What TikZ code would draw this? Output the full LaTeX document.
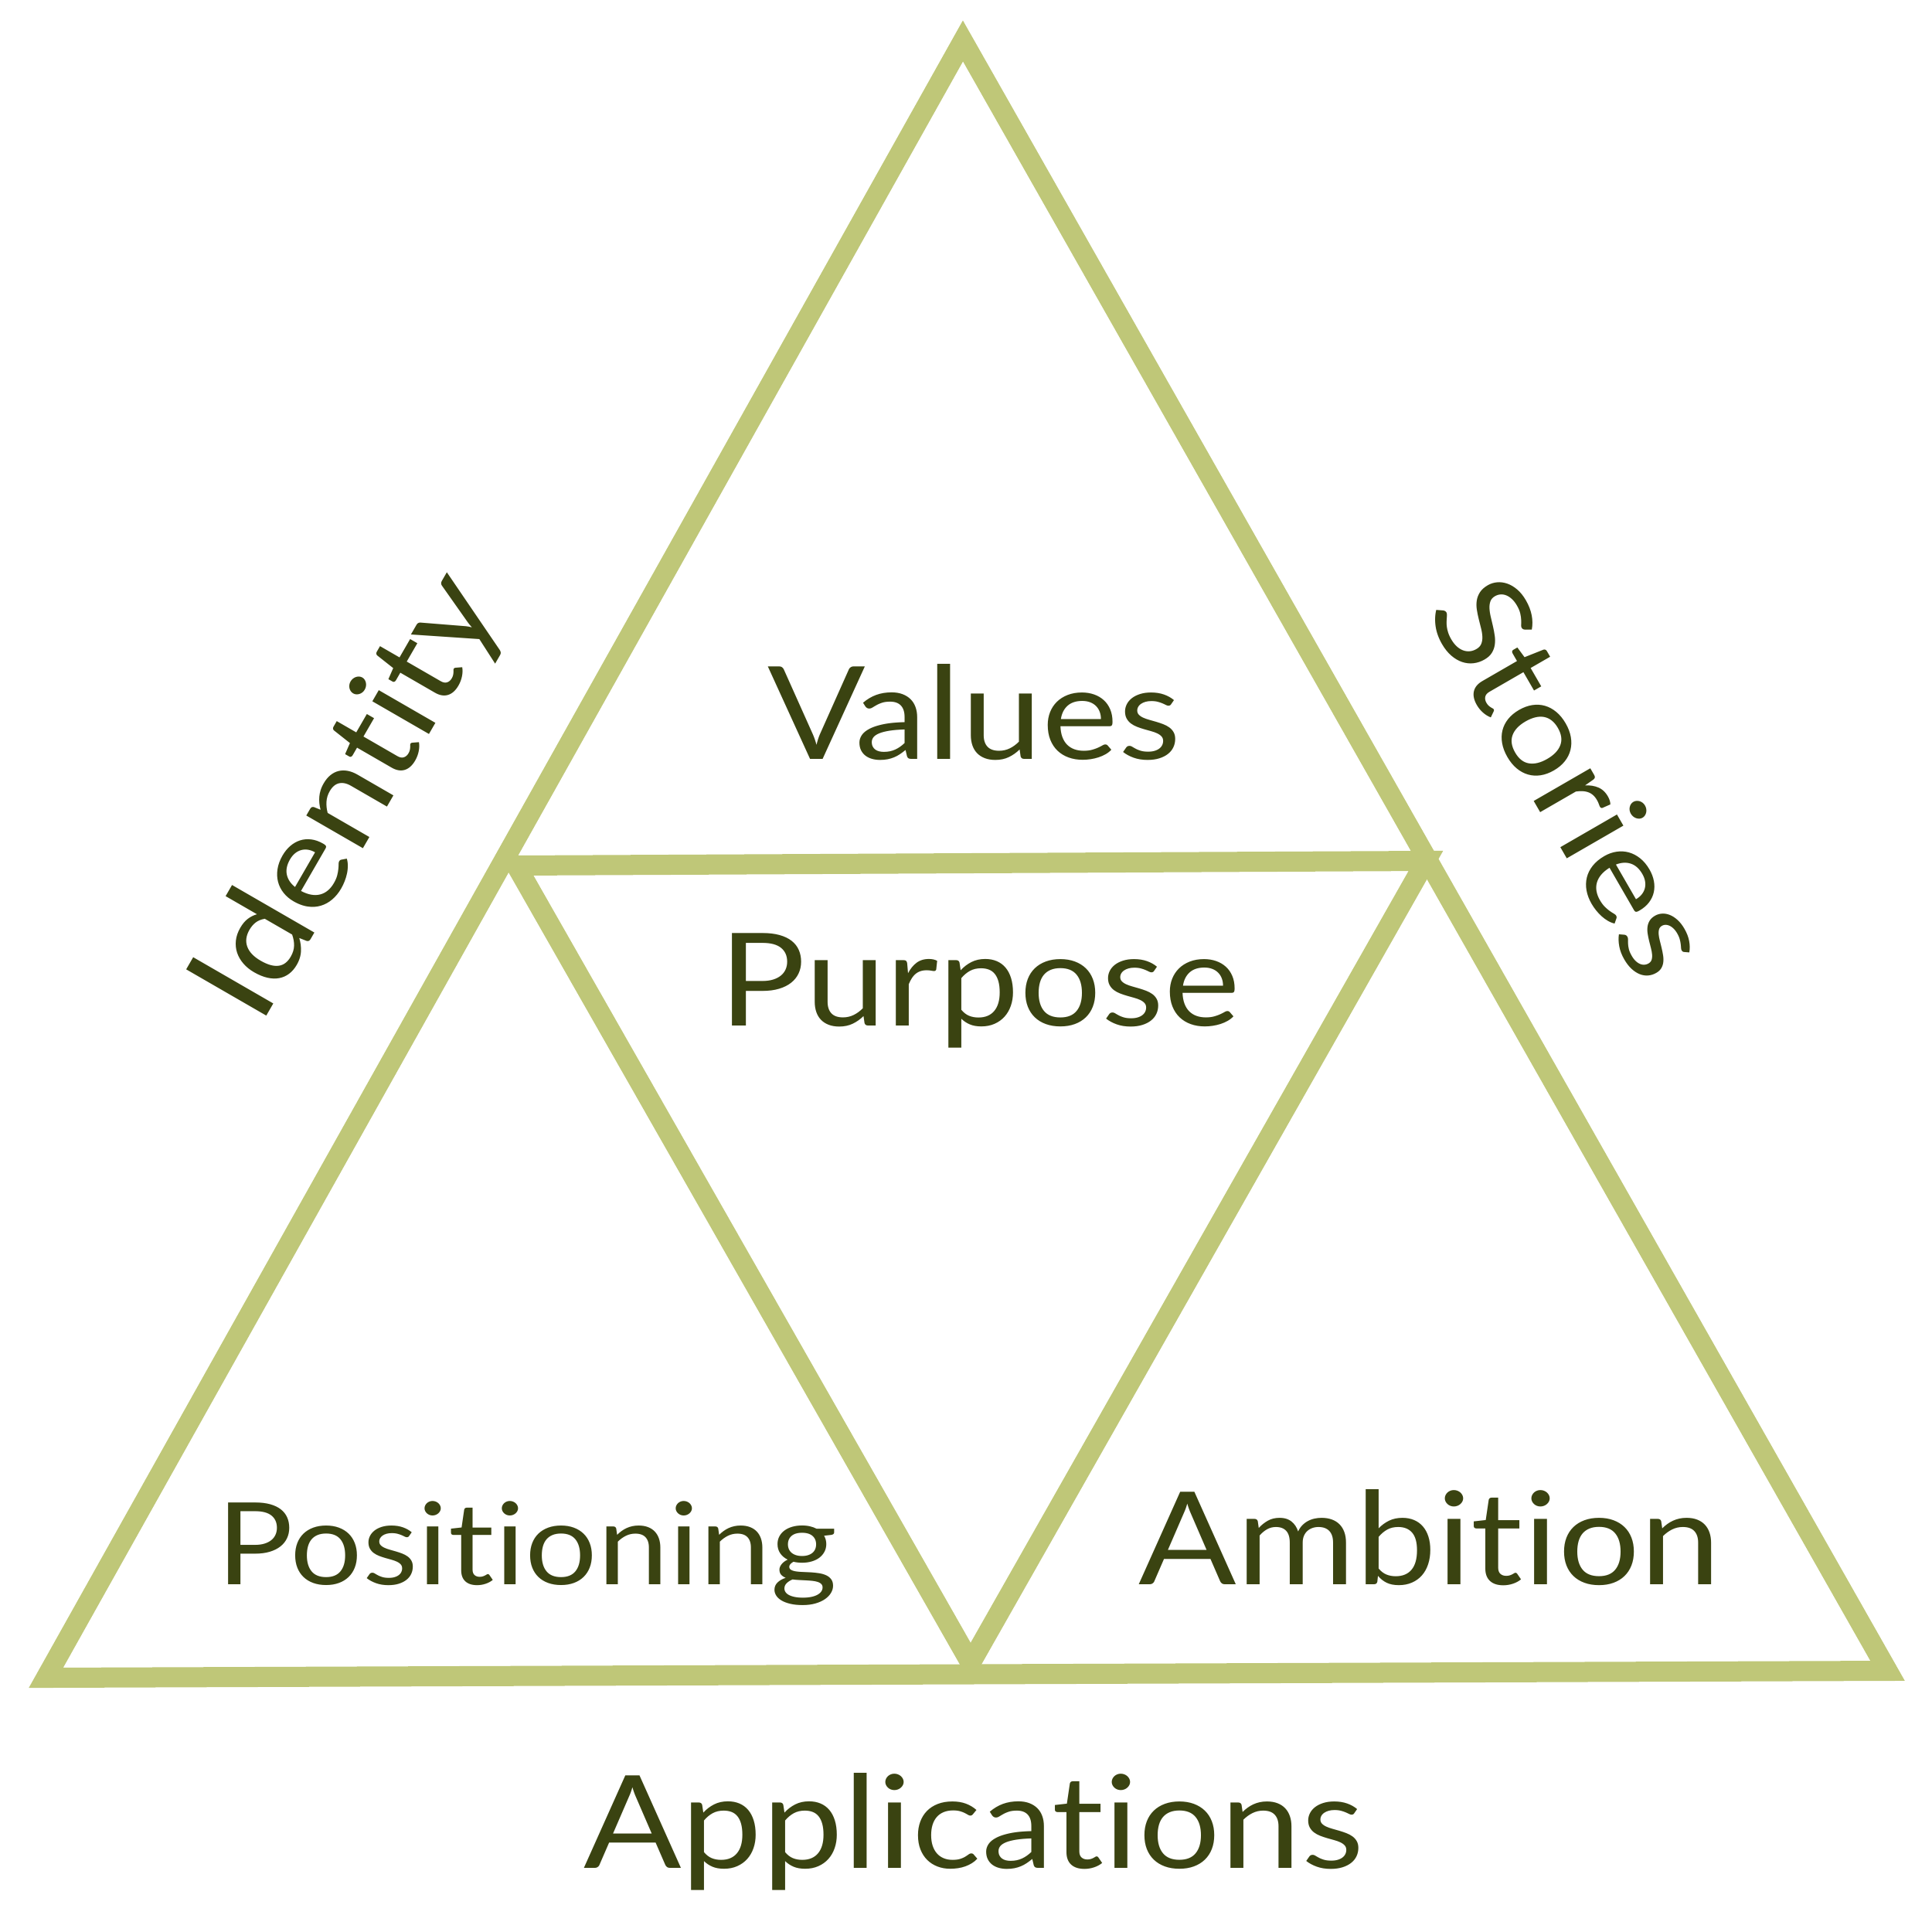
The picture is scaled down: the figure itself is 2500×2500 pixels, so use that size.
\documentclass[tikz,border=0pt]{standalone}
\usepackage{fontspec}
\setmainfont{Lato}[FakeStretch=1.12,Ligatures={NoCommon,NoContextual}]
\usepackage{tikz}
\definecolor{TriLineColor}{RGB}{191,199,120}
\definecolor{TriTextColor}{RGB}{58,67,17}

\begin{document}
\begin{tikzpicture}[x=0.01cm,y=-0.01cm,
  triline/.style={draw=TriLineColor,line width=0.26cm,line join=miter},
  lbl/.style={text=TriTextColor,font=\fontsize{47.5}{50}\selectfont,inner sep=0pt,anchor=base},
  sidelbl/.style={text=TriTextColor,font=\fontsize{47.5}{50}\selectfont,inner sep=0pt,rotate=#1}]
\useasboundingbox (0,0) rectangle (2500,2500);
% corners of the big triangle and of the one inside
\coordinate (apex) at (1246,53);
\coordinate (bl) at (59.5,2171);
\coordinate (br) at (2442.5,2162);
\coordinate (il) at (668,1120);
\coordinate (ir) at (1845,1114);
\coordinate (ib) at (1256,2152);
\draw[triline] (il) -- (ir) -- (ib) -- cycle;
\draw[triline] (apex) -- (br) -- (bl) -- cycle;
\foreach \nm/\txt/\x/\y in %
{values/Values/1261/982,purpose/Purpose/1268/1327,%
ambition/Ambition/1850/2050,applications/Applications/1260/2417} {
   \node[lbl] (\nm) at (\x,\y) {\txt};
}
\node[lbl,font=\fontsize{42}{44}\selectfont] (positioning) at (682,2050) {Positioning};
\node[sidelbl=60] (identity) at (454,1032) {Identity};
\node[sidelbl=-60] (stories) at (2036,1005) {Stories};
\end{tikzpicture}
\end{document}
